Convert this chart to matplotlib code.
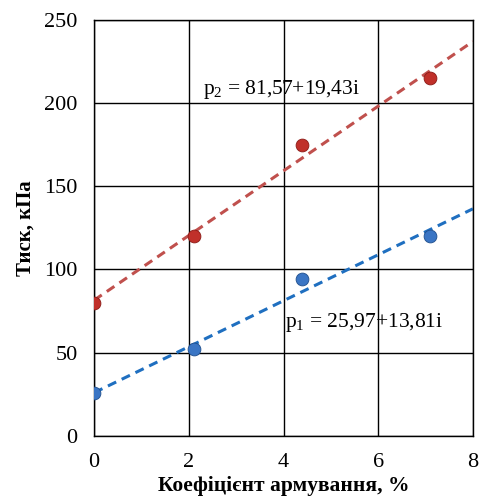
import numpy as np
import matplotlib.pyplot as plt

# measured points (reinforcement coefficient, %) vs pressure (kPa)
x_pts = [0, 2.1, 4.4, 7.1]
p2_pts = [80, 120, 175, 215]
p1_pts = [26, 52, 94, 120]

# trend line coefficients from the equations on the chart
p2_coef = (81.57, 19.43)
p1_coef = (25.97, 13.81)

x_ticks = [0, 2, 4, 6, 8]
y_ticks = [0, 50, 100, 150, 200, 250]

plt.rcParams['font.family'] = ['Liberation Serif', 'DejaVu Serif']
plt.rcParams['mathtext.fontset'] = 'custom'
plt.rcParams['mathtext.rm'] = 'Liberation Serif'
plt.rcParams['mathtext.it'] = 'Liberation Serif'

fig = plt.figure(figsize=(4.83, 4.97), dpi=100)
ax = fig.add_axes([0.195, 0.123, 0.784, 0.837])

xl = np.array([0, 8])
ax.plot(xl, p2_coef[0] + p2_coef[1] * xl, color='#C0504D', lw=2.2, ls=(0, (3, 2)), zorder=2)
ax.plot(xl, p1_coef[0] + p1_coef[1] * xl, color='#1F6FC0', lw=2.2, ls=(0, (3, 2)), zorder=2)

ax.scatter(x_pts, p2_pts, s=85, color='#C0302A', edgecolor='#8B1A16', linewidth=0.6, zorder=3)
ax.scatter(x_pts, p1_pts, s=85, color='#3A75C4', edgecolor='#1F4E8C', linewidth=0.6, zorder=3)

ax.text(2.3, 208, 'p$_2$ = 81,57+19,43i', fontsize=15.5, va='center', ha='left')
ax.text(4.03, 68, 'p$_1$ = 25,97+13,81i', fontsize=15.5, va='center', ha='left')

ax.set_xlim(0, 8)
ax.set_ylim(0, 250)
ax.set_xticks(x_ticks)
ax.set_yticks(y_ticks)
ax.grid(True, color='black', lw=1)
ax.set_axisbelow(True)
for s in ax.spines.values():
    s.set_color('black')
    s.set_linewidth(1)
ax.tick_params(length=0, labelsize=16, pad=12)

ax.set_xlabel('Коефіцієнт армування, %', fontsize=15.5, fontweight='bold', labelpad=3)
ax.set_ylabel('Тиск, кПа', fontsize=15, fontweight='bold', labelpad=6)

fig.savefig('out.png', dpi=100)
